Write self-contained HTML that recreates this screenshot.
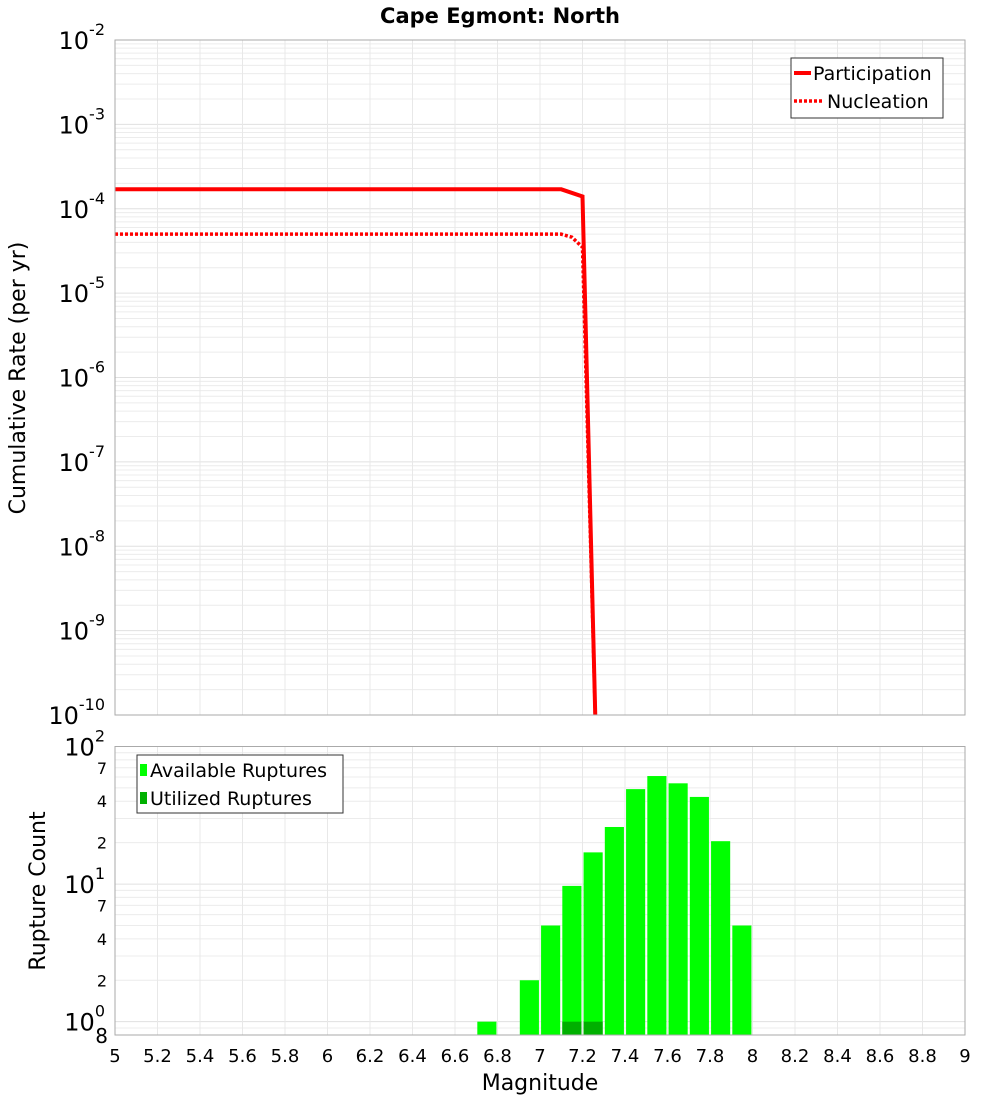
<!DOCTYPE html>
<html><head><meta charset="utf-8"><style>
body{margin:0;background:#fff;font-family:"Liberation Sans","DejaVu Sans",sans-serif}
svg text{font-family:"DejaVu Sans","Liberation Sans",sans-serif}
</style></head><body>
<svg id="c" width="1000" height="1100" xmlns="http://www.w3.org/2000/svg">
<text x="500" y="23" text-anchor="middle" font-size="21" font-weight="bold">Cape Egmont: North</text>
<g id="topg"></g><g id="botg"></g>
</svg>
<script>
const partMag=[5,7.1,7.2,7.26];
const partRate=[1.7e-4,1.7e-4,1.4e-4,1e-10];
const nuclMag=[5,7.1,7.15,7.2,7.26];
const nuclRate=[5e-5,5e-5,4.6e-5,3.5e-5,1e-10];
const binMag=[6.75,6.95,7.05,7.15,7.25,7.35,7.45,7.55,7.65,7.75,7.85,7.95];
const availCount=[1,2,5,9.7,17,26,49,61,54,43,20.5,5];
const usedMag=[7.15,7.25];
const usedCount=[1,1];
const xTicks=[5,5.2,5.4,5.6,5.8,6,6.2,6.4,6.6,6.8,7,7.2,7.4,7.6,7.8,8,8.2,8.4,8.6,8.8,9];
const NS="http://www.w3.org/2000/svg";
const L=115,R=965,T1=40,B1=715,T2=746.5,B2=1035;
const X=m=>L+(m-5)/4*(R-L);
const Y1=v=>T1+(-2-Math.log10(v))/8*(B1-T1);
const Y2=v=>T2+(2-Math.log10(v))/Math.log10(100/0.8)*(B2-T2);
function el(p,t,a,txt){const e=document.createElementNS(NS,t);for(const k in a)e.setAttribute(k,a[k]);if(txt!=null)e.textContent=txt;p.appendChild(e);return e;}
const gTop=document.getElementById('topg'),gBot=document.getElementById('botg');
function grids(g,T,B,Y,lo,hi){
  for(let d=lo;d<hi;d++)for(let k=1;k<10;k++){const y=Y(k*Math.pow(10,d));if(y<T-0.5||y>B+0.5)continue;
    const ln=el(g,'line',{x1:L,x2:R,y1:y,y2:y,stroke:k==1?'#e0e0e0':'#ececec','stroke-width':1});
    }
  xTicks.forEach(m=>{const ln=el(g,'line',{x1:X(m),x2:X(m),y1:T,y2:B,stroke:'#e8e8e8'});
    });
}
grids(gTop,T1,B1,Y1,-10,-1);
grids(gBot,T2,B2,Y2,-1,3);
for(let d=-10;d<=-2;d++){const y=Y1(Math.pow(10,d));
  const t=el(gTop,'text',{x:105,y:y+9,'text-anchor':'end','font-size':24});
  
  t.textContent='10';el(t,'tspan',{dy:-14,'font-size':16},String(d));}
const yt=el(gTop,'text',{x:0,y:0,transform:'translate(25,378) rotate(-90)','text-anchor':'middle','font-size':22},'Cumulative Rate (per yr)');

function path(ms,vs){return ms.map((m,i)=>(i?'L':'M')+X(m)+','+Y1(vs[i])).join(' ');}
const pl=el(gTop,'path',{d:path(partMag,partRate),fill:'none',stroke:'#ff0000','stroke-width':4});

const nl=el(gTop,'path',{d:path(nuclMag,nuclRate),fill:'none',stroke:'#ff0000','stroke-width':3.5,'stroke-dasharray':'3,2'});

const f1=el(gTop,'rect',{x:L,y:T1,width:R-L,height:B1-T1,fill:'none',stroke:'#aaa'});

const lg=el(gTop,'g',{});
el(lg,'rect',{x:791,y:58,width:152,height:60,fill:'#fff',stroke:'#333'});
el(lg,'line',{x1:794,x2:811,y1:73,y2:73,stroke:'#f00','stroke-width':4});
el(lg,'text',{x:813,y:80,'font-size':19},'Participation');
el(lg,'line',{x1:794,x2:822,y1:101,y2:101,stroke:'#f00','stroke-width':3.5,'stroke-dasharray':'3,2'});
el(lg,'text',{x:827,y:108,'font-size':19},'Nucleation');
const bw=X(0.09)-X(0);
binMag.forEach((m,i)=>{const r=el(gBot,'rect',{x:X(m)-bw/2,y:Y2(availCount[i]),width:bw,height:B2-Y2(availCount[i]),fill:'#00ff00'});
  });
usedMag.forEach((m,i)=>{const r=el(gBot,'rect',{x:X(m)-bw/2,y:Y2(usedCount[i]),width:bw,height:B2-Y2(usedCount[i]),fill:'#00b000'});
  });
const f2=el(gBot,'rect',{x:L,y:T2,width:R-L,height:B2-T2,fill:'none',stroke:'#aaa'});

[0,1,2].forEach(d=>{const y=Y2(Math.pow(10,d));
  const t=el(gBot,'text',{x:105,y:y+9,'text-anchor':'end','font-size':24});
  
  t.textContent='10';el(t,'tspan',{dy:-14,'font-size':16},String(d));});
[[2,'2'],[4,'4'],[7,'7'],[20,'2'],[40,'4'],[70,'7'],[0.8,'8']].forEach(p=>{
  const t=el(gBot,'text',{x:p[0]==0.8?108:107,y:Y2(p[0])+(p[0]==0.8?8:6),'text-anchor':'end','font-size':p[0]==0.8?20:16},p[1]);
  });
const yt2=el(gBot,'text',{x:0,y:0,transform:'translate(45,891) rotate(-90)','text-anchor':'middle','font-size':22},'Rupture Count');

xTicks.forEach(m=>{const t=el(gBot,'text',{x:X(m),y:1062,'text-anchor':'middle','font-size':18},String(m));
  });
const xt=el(gBot,'text',{x:540,y:1090,'text-anchor':'middle','font-size':22},'Magnitude');

const lg2=el(gBot,'g',{});
el(lg2,'rect',{x:137,y:755,width:206,height:58,fill:'#fff',stroke:'#333'});
el(lg2,'rect',{x:140,y:764,width:7,height:12,fill:'#00ff00'});
el(lg2,'text',{x:150,y:777,'font-size':19},'Available Ruptures');
el(lg2,'rect',{x:140,y:792,width:7,height:12,fill:'#00b000'});
el(lg2,'text',{x:150,y:805,'font-size':19},'Utilized Ruptures');
</script>
</body></html>
